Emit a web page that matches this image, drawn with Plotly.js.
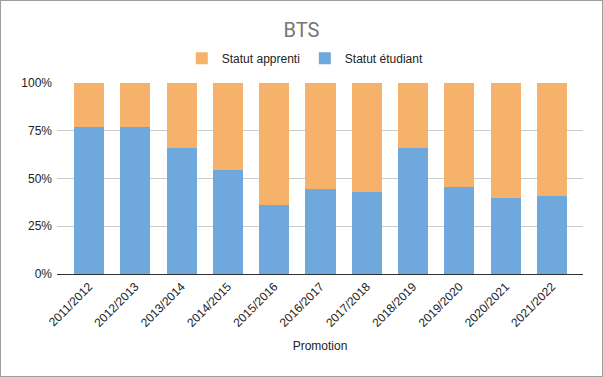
<!DOCTYPE html>
<html>
<head>
<meta charset="utf-8">
<script src="https://cdn.plot.ly/plotly-3.0.1.min.js"></script>
<style>
html,body{margin:0;padding:0;background:#fff;}
#wrap{position:relative;width:603px;height:377px;}
#chart{width:603px;height:377px;}
#frame{position:absolute;left:0;top:0;width:603px;height:377px;box-sizing:border-box;border:1px solid #9e9e9e;pointer-events:none;}
</style>
</head>
<body>
<div id="wrap"><div id="chart"></div><div id="frame"></div></div>
<script>
const categories = ["2011/2012","2012/2013","2013/2014","2014/2015","2015/2016","2016/2017","2017/2018","2018/2019","2019/2020","2020/2021","2021/2022"];
const etudiant = [77.2, 77.2, 66.2, 54.2, 36.0, 44.3, 42.8, 66.2, 45.3, 39.6, 40.6];
const apprenti = etudiant.map(v => 100 - v);

const traces = [
  {type:'bar', name:'Statut étudiant', x:categories, y:etudiant, marker:{color:'#6fa8dc'}, hoverinfo:'none'},
  {type:'bar', name:'Statut apprenti', x:categories, y:apprenti, marker:{color:'#f6b26b'}, hoverinfo:'none'}
];

const layout = {
  width:603, height:377,
  margin:{l:57, r:20, t:83, b:103},
  barmode:'stack',
  bargap:0.35,
  paper_bgcolor:'#fff', plot_bgcolor:'#fff',
  font:{family:'Liberation Sans, Arial, sans-serif', size:12, color:'#222'},
  title:{text:'BTS', x:0.5, xanchor:'center', xref:'container', yref:'container', y:0.92, yanchor:'middle', font:{size:20, color:'#757575', family:'Roboto, Liberation Sans, sans-serif'}},
  legend:{orientation:'h', x:0.472, xanchor:'center', y:1.13, yanchor:'middle', traceorder:'reversed', font:{size:12, color:'#222'}},
  xaxis:{type:'category', range:[-0.69, 10.67], tickangle:-45, showline:true, linecolor:'#333', linewidth:1, ticks:'', showgrid:false,
         title:{text:'Promotion', font:{size:12, color:'#222'}, standoff:12}},
  yaxis:{range:[0,100], dtick:25, ticksuffix:'%', showgrid:true, gridcolor:'#cccccc', zeroline:false, showline:false, ticks:'', ticklabelstandoff:4, fixedrange:true}
};

Plotly.newPlot('chart', traces, layout, {displayModeBar:false, staticPlot:true});
</script>
</body>
</html>
